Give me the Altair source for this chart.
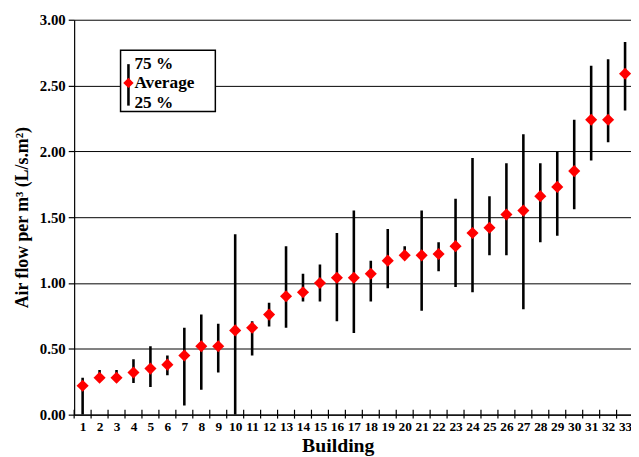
import altair as alt
import pandas as pd

buildings = list(range(1, 34))
avg = [0.22, 0.28, 0.28, 0.32, 0.35, 0.38, 0.45, 0.52, 0.52, 0.64, 0.66,
       0.76, 0.90, 0.93, 1.00, 1.04, 1.04, 1.07, 1.17, 1.21, 1.21, 1.22,
       1.28, 1.38, 1.42, 1.52, 1.55, 1.66, 1.73, 1.85, 2.24, 2.24, 2.59]
p75 = [0.28, 0.34, 0.34, 0.42, 0.52, 0.45, 0.66, 0.76, 0.69, 1.37, 0.71,
       0.85, 1.28, 1.07, 1.14, 1.38, 1.55, 1.17, 1.41, 1.28, 1.55, 1.31,
       1.64, 1.95, 1.66, 1.91, 2.13, 1.91, 2.00, 2.24, 2.65, 2.70, 2.83]
p25 = [0.00, 0.25, 0.25, 0.24, 0.21, 0.30, 0.07, 0.19, 0.32, 0.00, 0.45,
       0.67, 0.66, 0.86, 0.86, 0.71, 0.62, 0.86, 0.96, 1.18, 0.79, 1.09,
       0.97, 0.93, 1.21, 1.21, 0.80, 1.31, 1.36, 1.56, 1.93, 2.07, 2.31]
y_ticks = [0, 0.5, 1.0, 1.5, 2.0, 2.5, 3.0]

df = pd.DataFrame({"b": buildings, "avg": avg, "p75": p75, "p25": p25})
bounds = pd.DataFrame({"xb": [b - 0.5 for b in buildings]})
one = pd.DataFrame({"a": [0]})

FONT = "Liberation Serif"
W, H = 564, 400

xscale = alt.Scale(domain=[0.5, 33.35], nice=False, zero=False)
yscale = alt.Scale(domain=[0, 3], nice=False, zero=True)

xaxis = alt.Axis(values=buildings, format="d", ticks=False, grid=False,
                 labelFont=FONT, labelFontWeight="bold", labelFontSize=13.5,
                 labelColor="black", labelPadding=5, labelOverlap=False,
                 labelFlush=False, labelBound=False, labelSeparation=0,
                 domainColor="black", domainWidth=1.2,
                 title="Building", titleFont=FONT, titleFontWeight="bold",
                 titleFontSize=20, titleColor="black",
                 titleX=267, titleY=37, titleBaseline="alphabetic",
                 titleAlign="center")
yaxis = alt.Axis(values=y_ticks, format=".2f", grid=True, gridColor="black",
                 gridWidth=1, tickColor="black", tickSize=6, tickWidth=1.2,
                 domainColor="black", domainWidth=1.2,
                 labelFont=FONT, labelFontWeight="bold", labelFontSize=15,
                 labelColor="black", labelPadding=3, labelOverlap=False,
                 title="Air flow per m³ (L/s.m²)", titleFont=FONT,
                 titleFontWeight="bold", titleFontSize=18, titleColor="black",
                 titleAngle=-90, titleX=-47, titleY=200,
                 titleBaseline="alphabetic", titleAlign="center")

base = alt.Chart(df)

bars = base.mark_rule(color="black", strokeWidth=2.6, clip=True).encode(
    x=alt.X("b:Q", scale=xscale, axis=xaxis),
    y=alt.Y("p25:Q", scale=yscale, axis=yaxis),
    y2="p75:Q",
)

points = base.mark_point(shape="diamond", filled=True, color="#ff0000",
                         size=150, opacity=1, clip=True).encode(
    x=alt.X("b:Q", scale=xscale, axis=xaxis),
    y=alt.Y("avg:Q", scale=yscale, axis=yaxis),
)

xticks = alt.Chart(bounds).mark_rule(color="black", strokeWidth=1.2).encode(
    x=alt.X("xb:Q", scale=xscale, axis=xaxis),
    y=alt.value(395),
    y2=alt.value(404),
)

box = alt.Chart(one).mark_rect(fill="white", stroke="black", strokeWidth=1.5).encode(
    x=alt.value(47), x2=alt.value(143), y=alt.value(31), y2=alt.value(93)
)
leg_bar = alt.Chart(one).mark_rule(color="black", strokeWidth=2.6).encode(
    x=alt.value(55), y=alt.value(45), y2=alt.value(87)
)
leg_pt = alt.Chart(one).mark_point(shape="diamond", filled=True, color="#ff0000",
                                   size=110, opacity=1).encode(
    x=alt.value(55), y=alt.value(64)
)

def leg_text(t, y):
    return alt.Chart(one).mark_text(font=FONT, fontWeight="bold", fontSize=17.5,
                                    align="left", baseline="middle", color="black").encode(
        x=alt.value(61), y=alt.value(y), text=alt.value(t)
    )

chart = alt.layer(
    bars, xticks, points, box, leg_bar, leg_pt,
    leg_text("75 %", 45), leg_text("Average", 64), leg_text("25 %", 84),
).properties(
    width=W, height=H,
    autosize=alt.AutoSizeParams(type="none"),
    padding={"left": 67, "top": 9, "right": 0, "bottom": 40},
).configure_view(stroke=None).configure_axis(
    labelOverlap=False, labelFontWeight="bold", titleFontWeight="bold",
    labelFont=FONT, titleFont=FONT, labelColor="black", titleColor="black"
).configure_axisX(labelOverlap=False)

chart.save("out.html", embed_options={"renderer": "svg", "actions": False})
